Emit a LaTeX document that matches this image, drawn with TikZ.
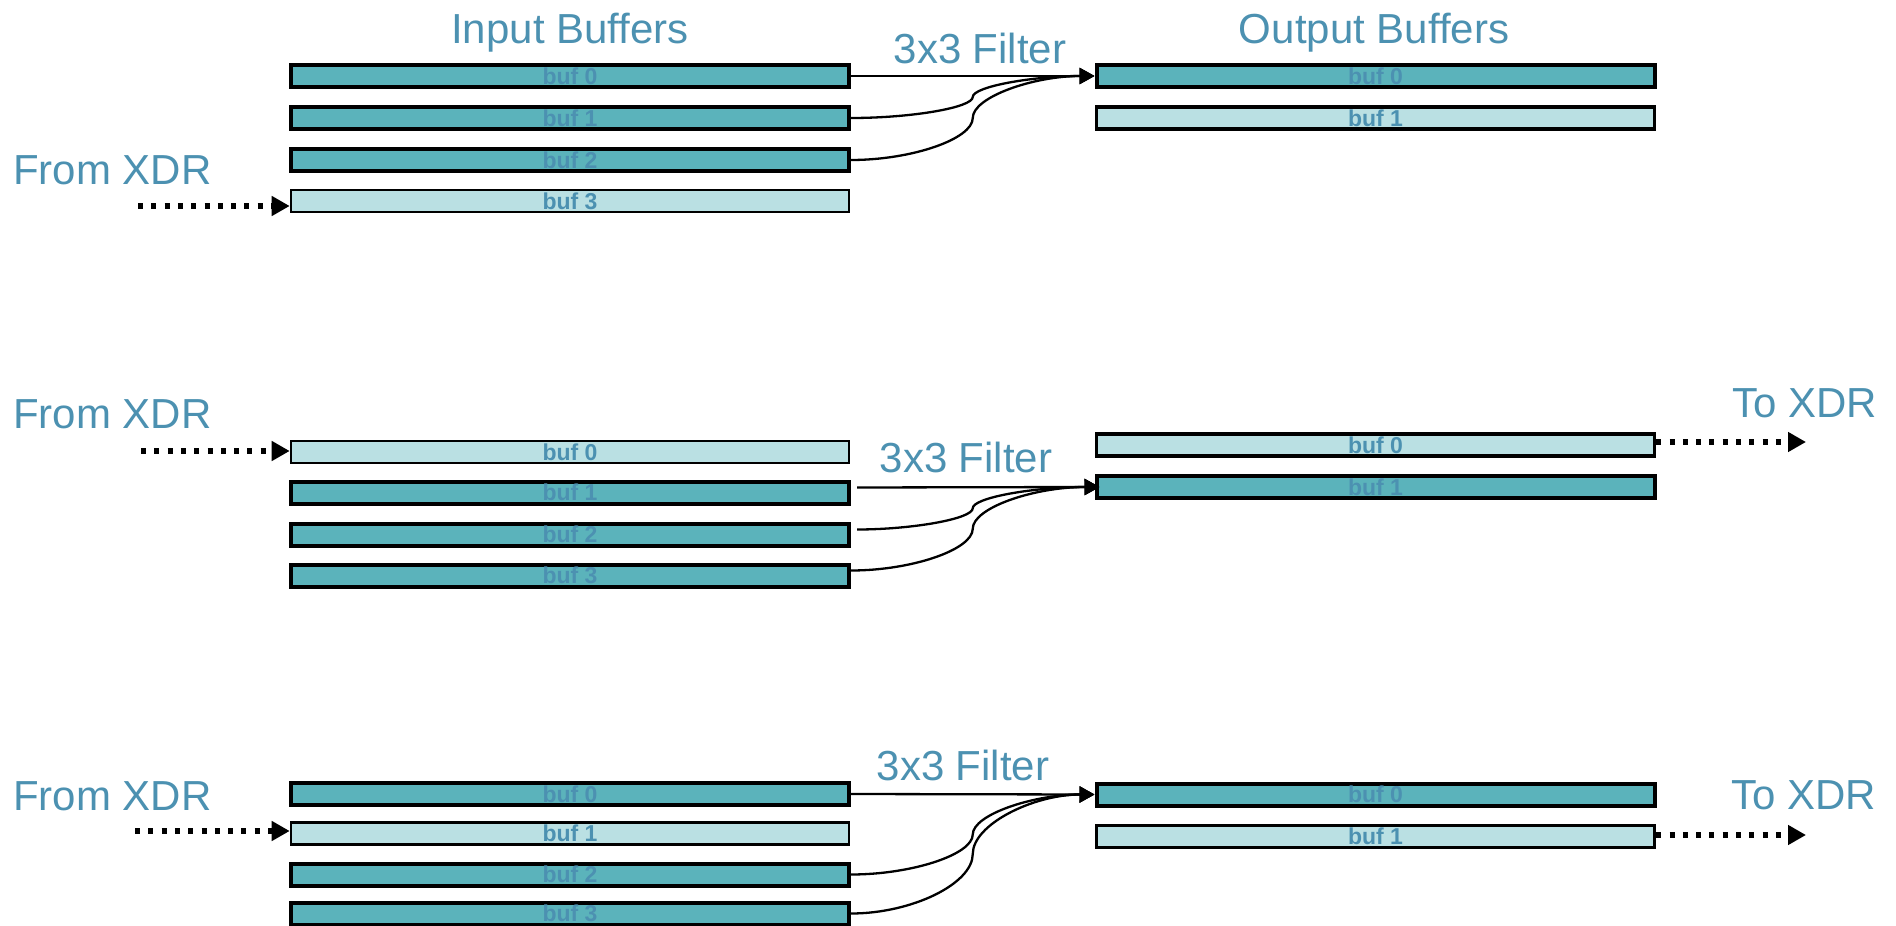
\documentclass[tikz,border=0pt]{standalone}
\usepackage{fontspec}
\setmainfont{Liberation Sans}
\usetikzlibrary{arrows.meta,calc}
\definecolor{tealdark}{RGB}{91,179,187}
\definecolor{teallight}{RGB}{186,224,227}
\definecolor{labelblue}{RGB}{76,145,177}
\newcommand\bigfont{\fontsize{42pt}{48pt}\selectfont}
\newcommand\buffont{\bfseries\fontsize{23pt}{25pt}\selectfont}
\newcommand\curveconn[3][]{%
  \draw[conn,#1] let \p1=(#2), \p2=(#3) in (\p1)
   .. controls ({0.75*\x1+0.25*\x2},\y1) and ({0.5*\x1+0.5*\x2},{0.75*\y1+0.25*\y2})
   .. ({0.5*\x1+0.5*\x2},{0.5*\y1+0.5*\y2})
   .. controls ({0.5*\x1+0.5*\x2},{0.25*\y1+0.75*\y2}) and ({0.25*\x1+0.75*\x2},\y2)
   .. (\p2);}
\tikzset{
 darkbuf/.style={draw=black, line width=4pt, fill=tealdark, minimum width=558pt,
   minimum height=22pt, inner sep=0pt, font=\buffont, text=labelblue},
 lightbuf/.style={darkbuf, fill=teallight, line width=2.6pt},
 lightout/.style={darkbuf, fill=teallight, line width=3.4pt},
 lbl/.style={font=\bigfont, text=labelblue, inner sep=0pt},
 conn/.style={line width=2.3pt, -{Triangle[length=15pt,width=16pt]}},
 xdr/.style={line width=5.5pt, dash pattern=on 5pt off 8.3pt, -{Triangle[length=18pt,width=19pt]}}
}
\begin{document}
\begin{tikzpicture}[x=1pt,y=-1pt]
\useasboundingbox (0,0) rectangle (1896,926);
% ---------- Panel 1 ----------
\node[lbl, anchor=base] (t1) at (570,43) {Input Buffers};
\node[lbl, anchor=base] (t2) at (1374,43) {Output Buffers};
\node[lbl, anchor=base] (f1) at (980,63) {3x3 Filter};
\node[lbl, anchor=base west] (x1) at (13,184) {From XDR};
\node[darkbuf] (a0) at (570,76) {buf 0};
\node[darkbuf] (a1) at (570,118) {buf 1};
\node[darkbuf] (a2) at (570,160) {buf 2};
\node[lightbuf] (a3) at (570,201) {buf 3};
\node[darkbuf] (ao0) at (1375.5,76) {buf 0};
\node[lightout] (ao1) at (1375.5,118) {buf 1};
\coordinate (as) at (138,206);
\draw[xdr] (as) -- (as -| a3.west);
\draw[conn] (a0.east) -- (ao0.west);
\curveconn{a1.east}{ao0.west}
\curveconn{a2.east}{ao0.west}
% ---------- Panel 2 ----------
\node[lbl, anchor=base west] (x2) at (13,428) {From XDR};
\node[lbl, anchor=base] (f2) at (966,472) {3x3 Filter};
\node[lbl, anchor=base west] (y2) at (1732,417) {To XDR};
\node[lightbuf] (b0) at (570,452) {buf 0};
\node[darkbuf] (b1) at (570,492.5) {buf 1};
\node[darkbuf] (b2) at (570,534.5) {buf 2};
\node[darkbuf] (b3) at (570,575.5) {buf 3};
\node[lightout] (bo0) at (1375.5,445) {buf 0};
\node[darkbuf] (bo1) at (1375.5,487) {buf 1};
\coordinate (bs) at (141,451);
\draw[xdr] (bs) -- (bs -| b0.west);
\coordinate (be) at (1806,442);
\draw[xdr] (be -| bo0.east) -- (be);
\draw[conn, shorten <=6pt, shorten >=-5pt] ([yshift=5pt]b1.east) -- (bo1.west);
\curveconn[shorten <=6pt, shorten >=-5pt]{[yshift=5pt]b2.east}{bo1.west}
\curveconn[shorten >=-5pt]{[yshift=5pt]b3.east}{bo1.west}
% ---------- Panel 3 ----------
\node[lbl, anchor=base west] (x3) at (13,810) {From XDR};
\node[lbl, anchor=base] (f3) at (963,780) {3x3 Filter};
\node[lbl, anchor=base west] (y3) at (1731,809) {To XDR};
\node[darkbuf] (c0) at (570,794) {buf 0};
\node[lightbuf] (c1) at (570,833.5) {buf 1};
\node[darkbuf] (c2) at (570,874.5) {buf 2};
\node[darkbuf] (c3) at (570,913.5) {buf 3};
\node[darkbuf] (co0) at (1375.5,794.5) {buf 0};
\node[lightout] (co1) at (1375.5,836.5) {buf 1};
\coordinate (cs) at (135,831);
\draw[xdr] (cs) -- (cs -| c1.west);
\coordinate (ce) at (1806,835);
\draw[xdr] (ce -| co1.east) -- (ce);
\draw[conn] (c0.east) -- (co0.west);
\curveconn{c2.east}{co0.west}
\curveconn{c3.east}{co0.west}
\end{tikzpicture}
\end{document}
